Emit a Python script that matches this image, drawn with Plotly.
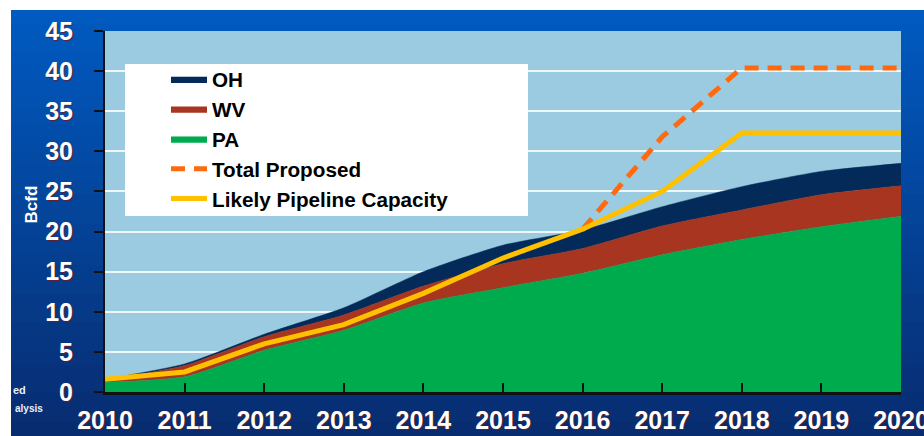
import plotly.graph_objects as go

# ---- data ----
years = [2010, 2011, 2012, 2013, 2014, 2015, 2016, 2017, 2018, 2019, 2020]
pa = [1.2, 1.9, 5.2, 7.7, 11.1, 13.0, 14.8, 17.1, 19.0, 20.6, 21.9]
wv = [0.3, 1.4, 1.7, 1.9, 2.1, 3.0, 3.1, 3.6, 3.7, 4.0, 3.8]
oh = [0.1, 0.2, 0.3, 0.9, 1.8, 2.3, 2.3, 2.4, 2.9, 2.9, 2.8]
likely = [1.6, 2.5, 6.0, 8.4, 12.3, 16.7, 20.3, 25.0, 32.3, 32.3, 32.3]
proposed_years = [2016, 2017, 2018, 2019, 2020]
proposed = [20.3, 31.8, 40.4, 40.4, 40.4]
y_ticks = [0, 5, 10, 15, 20, 25, 30, 35, 40, 45]
x_ticks = years

W, H = 924, 436
L, R, T, B = 105, 23, 31, 44
PW, PH = W - L - R, H - T - B


def px(x):
    return (x - L) / PW


def py(y):
    return (H - B - y) / PH


fig = go.Figure()

fig.add_trace(go.Scatter(x=years, y=pa, name="PA", stackgroup="s", mode="lines",
                         line=dict(color="#00ab4e", width=0.5, shape="spline", smoothing=0.6),
                         fillcolor="#00ab4e", legendrank=3))
fig.add_trace(go.Scatter(x=years, y=wv, name="WV", stackgroup="s", mode="lines",
                         line=dict(color="#a7351f", width=0.5, shape="spline", smoothing=0.6),
                         fillcolor="#a7351f", legendrank=2))
fig.add_trace(go.Scatter(x=years, y=oh, name="OH", stackgroup="s", mode="lines",
                         line=dict(color="#032a58", width=0.5, shape="spline", smoothing=0.6),
                         fillcolor="#032a58", legendrank=1))
fig.add_trace(go.Scatter(x=proposed_years, y=proposed, name="Total Proposed", mode="lines",
                         line=dict(color="#ff6a10", width=5, dash="14px,9px"), legendrank=4))
fig.add_trace(go.Scatter(x=years, y=likely, name="Likely Pipeline Capacity", mode="lines",
                         line=dict(color="#ffc000", width=5), legendrank=5))

# background: blue gradient frame + light-blue plot area + white legend box
shapes = []
n = 30
top_c = (0, 90, 192)
bot_c = (8, 44, 112)
y0p, y1p = 10, H
for i in range(n):
    t = i / (n - 1)
    c = tuple(int(round(top_c[k] + (bot_c[k] - top_c[k]) * t)) for k in range(3))
    ya = y0p + (y1p - y0p) * i / n
    yb = y0p + (y1p - y0p) * (i + 1) / n + 1
    shapes.append(dict(type="rect", xref="paper", yref="paper", layer="below",
                       x0=px(11), x1=px(W + 5), y0=py(min(yb, H + 5)), y1=py(ya),
                       fillcolor="rgb(%d,%d,%d)" % c, line=dict(width=0)))
shapes.append(dict(type="rect", xref="paper", yref="paper", layer="below",
                   x0=0, x1=1, y0=0, y1=1, fillcolor="#9bcbe1", line=dict(width=0)))
shapes.append(dict(type="rect", xref="paper", yref="paper", layer="above",
                   x0=px(125), x1=px(528), y0=py(216), y1=py(64),
                   fillcolor="white", line=dict(width=0)))

tickfont = dict(family="Liberation Sans", size=25, color="white", weight="bold",
                shadow="1px 1px 1px #602030")

fig.update_layout(
    width=W, height=H, autosize=False,
    margin=dict(l=L, r=R, t=T, b=B, pad=0, autoexpand=False),
    paper_bgcolor="white", plot_bgcolor="#9bcbe1",
    shapes=shapes,
    showlegend=True,
    legend=dict(x=px(166), y=py(59), xanchor="left", yanchor="top",
                bgcolor="rgba(0,0,0,0)", borderwidth=0, traceorder="normal",
                font=dict(family="Liberation Sans", size=20.7, color="black", weight="bold"),
                itemwidth=36, tracegroupgap=0),
    xaxis=dict(range=[2010, 2020], tickvals=x_ticks, ticktext=[str(v) for v in x_ticks],
               showgrid=False, zeroline=False, showline=True, linecolor="#111111", linewidth=3,
               ticks="inside", ticklen=9, tickwidth=2, tickcolor="#111111",
               tickfont=dict(tickfont, size=25), ticklabelstandoff=4,
               ticklabeloverflow="allow", automargin=False, fixedrange=True),
    yaxis=dict(range=[0, 45], tickvals=y_ticks, ticktext=[str(v) for v in y_ticks],
               showgrid=True, gridcolor="#eef7fb", gridwidth=2, zeroline=False,
               showline=True, linecolor="#111111", linewidth=2,
               ticks="outside", ticklen=9, tickwidth=2, tickcolor="#111111",
               tickfont=tickfont, ticklabelstandoff=16, automargin=False, fixedrange=True),
    annotations=[
        dict(text="Bcfd", x=px(20), y=py(205), xref="paper", yref="paper", showarrow=False,
             textangle=-90, font=dict(family="Liberation Sans", size=17, color="white", weight="bold")),
        dict(text="ed", x=px(28), y=py(398), xref="paper", yref="paper", showarrow=False,
             xanchor="right", font=dict(family="Liberation Sans", size=11, color="#e8eef8", weight="bold")),
        dict(text="alysis", x=px(45), y=py(416), xref="paper", yref="paper", showarrow=False,
             xanchor="right", font=dict(family="Liberation Sans", size=10, color="#e8eef8", weight="bold")),
    ],
)

fig.write_html("out.html")
